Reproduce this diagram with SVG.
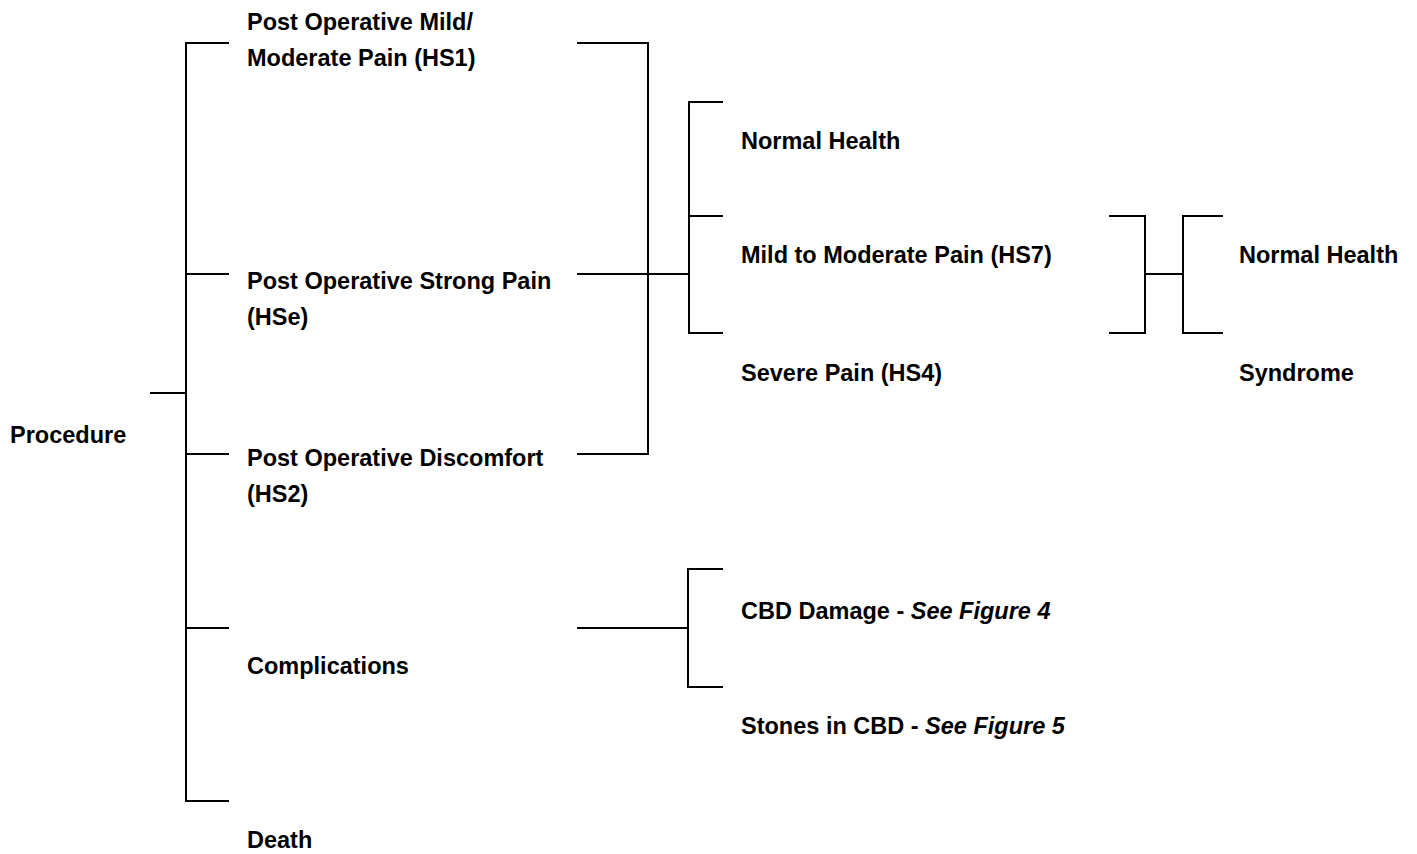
<svg xmlns="http://www.w3.org/2000/svg" width="1417" height="854" viewBox="0 0 1417 854">
  <style>
    .lbl { font-family: "Liberation Sans", Arial, sans-serif; font-size: 23.5px; font-weight: bold; fill: #000; }
    .it { font-style: italic; }
    .ln { stroke: #000; stroke-width: 2; fill: none; stroke-linecap: square; }
  </style>
  <rect width="1417" height="854" fill="#fff"/>

  <!-- connectors -->
  <g id="connectors" class="ln">
    <!-- procedure stub and main bracket -->
    <path d="M151 393 H186"/>
    <path d="M228 43 H186 V801 H228"/>
    <path d="M186 274 H228"/>
    <path d="M186 454 H228"/>
    <path d="M186 628 H228"/>
    <!-- post-operative states merging -->
    <path d="M578 43 H648 V454 H578"/>
    <path d="M578 274 H689"/>
    <!-- recovery bracket -->
    <path d="M722 102 H689 V333 H722"/>
    <path d="M689 216 H722"/>
    <!-- HS7 onward -->
    <path d="M1110 216 H1145 V333 H1110"/>
    <path d="M1145 274 H1183"/>
    <path d="M1222 216 H1183 V333 H1222"/>
    <!-- complications -->
    <path d="M578 628 H688"/>
    <path d="M722 569 H688 V687 H722"/>
  </g>

  <g id="procedure"><text class="lbl" x="10" y="442.5">Procedure</text></g>
  <g id="hs1">
    <text class="lbl" x="247" y="30">Post Operative Mild/</text>
    <text class="lbl" x="247" y="66">Moderate Pain (HS1)</text>
  </g>
  <g id="hse">
    <text class="lbl" x="247" y="289">Post Operative Strong Pain</text>
    <text class="lbl" x="247" y="324.5">(HSe)</text>
  </g>
  <g id="hs2">
    <text class="lbl" x="247" y="465.5">Post Operative Discomfort</text>
    <text class="lbl" x="247" y="501.5">(HS2)</text>
  </g>
  <g id="complications"><text class="lbl" x="247" y="673.5">Complications</text></g>
  <g id="death"><text class="lbl" x="247" y="848">Death</text></g>

  <g id="normal-health-1"><text class="lbl" x="741" y="148.5">Normal Health</text></g>
  <g id="hs7"><text class="lbl" x="741" y="263">Mild to Moderate Pain (HS7)</text></g>
  <g id="hs4"><text class="lbl" x="741" y="381">Severe Pain (HS4)</text></g>

  <g id="normal-health-2"><text class="lbl" x="1239" y="263">Normal Health</text></g>
  <g id="syndrome"><text class="lbl" x="1239" y="381">Syndrome</text></g>

  <g id="cbd-damage"><text class="lbl" x="741" y="618.5">CBD Damage - <tspan class="it">See Figure 4</tspan></text></g>
  <g id="stones"><text class="lbl" x="741" y="734">Stones in CBD - <tspan class="it">See Figure 5</tspan></text></g>
</svg>
